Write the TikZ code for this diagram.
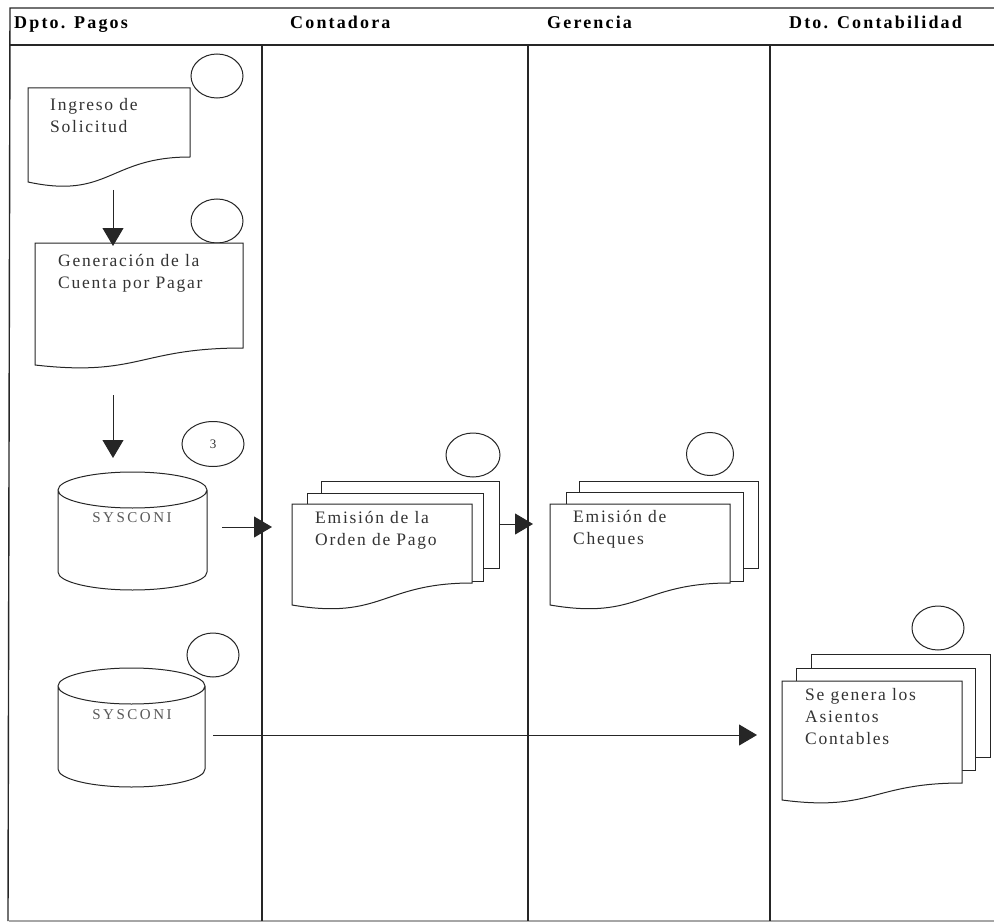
\documentclass[tikz,border=0pt]{standalone}
\usepackage{fontspec}
\setmainfont{Liberation Serif}
\newfontfamily\hdfont[LetterSpace=12]{Liberation Serif}
\newfontfamily\bdfont[LetterSpace=10]{Liberation Serif}
\newfontfamily\dbfont[LetterSpace=17]{Liberation Serif}
\usetikzlibrary{arrows.meta,shapes.geometric}
\definecolor{ink}{HTML}{262626}
\definecolor{txt}{HTML}{333333}
\tikzset{
  lane/.style={line width=1.4pt, draw=ink},
  lanefaint/.style={line width=1.2pt, draw=black!35},
  shp/.style={line width=1pt, draw=ink, fill=white},
  conn/.style={line width=1pt, draw=ink, -{Triangle[length=18pt,width=21pt]}},
  hd/.style={font=\hdfont\bfseries\fontsize{18}{20}\selectfont, anchor=base west, inner sep=0, text=black},
  lbl/.style={font=\bdfont\fontsize{17.5}{22}\selectfont, align=left, anchor=north west, inner sep=0, text=txt},
  dbl/.style={font=\dbfont\fontsize{15}{17}\selectfont, inner sep=0, text=black!65},
  circ/.style={ellipse, draw=ink, line width=1pt, fill=white, minimum width=52pt, minimum height=44pt, inner sep=0, text=txt}
}
% document outline: L, T, R, yLeftEnd, yRightEnd
\newcommand\docpath[5]{(#1,#2) -- (#3,#2) -- (#3,#5) .. controls ({(#1+#3)/2},#5) and ({(#1+#3)/2},{#4+0.7*(#4-#5)}) .. (#1,#4) -- cycle}
% cylinder: L, R, top-centre y, bottom-centre y, ry
\newcommand\cylpath[5]{(#1,#3) -- (#1,#4) arc[start angle=180,end angle=0,x radius={(#2-#1)/2},y radius=#5] -- (#2,#3) arc[start angle=0,end angle=-180,x radius={(#2-#1)/2},y radius=#5] arc[start angle=180,end angle=0,x radius={(#2-#1)/2},y radius=#5]}
\begin{document}
\begin{tikzpicture}[x=1pt,y=-1pt]
\useasboundingbox (0,0) rectangle (994,923);
% frame and lanes
\draw[lanefaint] (9,921) -- (994,921);
\draw[lane] (994,8) -- (10,8) -- (8,921);
\draw[lane] (9,45) -- (994,45);
\draw[lane] (262,45) -- (262,921);
\draw[lane] (528,45) -- (528,921);
\draw[lane] (770,45) -- (770,921);
\node[hd] (h1) at (14,29) {Dpto. Pagos};
\node[hd] (h2) at (290,29) {Contadora};
\node[hd] (h3) at (547,29) {Gerencia};
\node[hd] (h4) at (789,29) {Dto. Contabilidad};

% Dpto. Pagos
\node[circ] (c1) at (217,76) {};
\draw[shp] \docpath{28}{88}{190}{182}{157};
\node[lbl] (t1) at (50,98) {Ingreso de\\Solicitud};
\node[circ] (c2) at (217,221) {};
\draw[shp] \docpath{35}{243}{243}{365}{348};
\node[lbl] (t2) at (58,254) {Generación de la\\Cuenta por Pagar};
\node[circ, minimum width=62pt, minimum height=45pt, font=\fontsize{13}{14}\selectfont] (c3) at (213,444) {3};
\draw[shp] \cylpath{58}{207}{490}{572}{18};
\node[dbl] (s1) at (132,518) {SYSCONI};
\node[circ] (c4) at (213,655) {};
\draw[shp] \cylpath{58}{205}{686}{769}{18};
\node[dbl] (s2) at (132,715) {SYSCONI};

% Contadora
\node[circ, minimum width=54pt] (c5) at (473,455) {};
\draw[shp] (321,481) rectangle (499,568);
\draw[shp] (307,493) rectangle (483,581);
\draw[shp] \docpath{292}{504}{472}{605}{583};
\node[lbl] (t3) at (315,511) {Emisión de la\\Orden de Pago};

% Gerencia
\node[circ, minimum width=47pt, minimum height=43pt] (c6) at (710,454) {};
\draw[shp] (579,481) rectangle (758,568);
\draw[shp] (566,492) rectangle (743,581);
\draw[shp] \docpath{550}{504}{730}{605}{583};
\node[lbl] (t4) at (573,510) {Emisión de\\Cheques};

% Dto. Contabilidad
\node[circ] (c7) at (938,628) {};
\draw[shp] (811,654) rectangle (990,757);
\draw[shp] (796,668) rectangle (975,770);
\draw[shp] \docpath{782}{681}{962}{800}{783};
\node[lbl] (t5) at (805,688) {Se genera los\\Asientos\\Contables};

% connector ends
\coordinate (a1s) at (113,190); \coordinate (a1e) at (113,246);
\coordinate (a2s) at (113,395); \coordinate (a2e) at (113,458);
\coordinate (a3s) at (222,527); \coordinate (a3e) at (272,527);
\coordinate (a4s) at (213,735); \coordinate (a4e) at (757,735);
\coordinate (a5s) at (499,524); \coordinate (a5e) at (533,524);
\draw[conn] (a1s) -- (a1e);
\draw[conn] (a2s) -- (a2e);
\draw[conn] (a3s) -- (a3e);
\draw[conn] (a4s) -- (a4e);
\draw[conn] (a5s) -- (a5e);
\end{tikzpicture}
\end{document}
